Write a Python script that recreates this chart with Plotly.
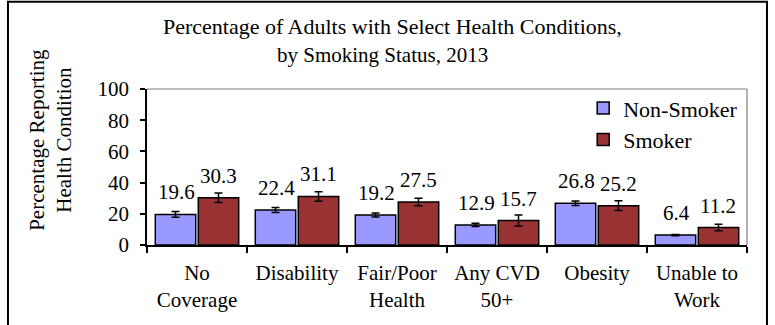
import plotly.graph_objects as go

categories = ["No<br>Coverage", "Disability", "Fair/Poor<br>Health", "Any CVD<br>50+", "Obesity", "Unable to<br>Work"]
non_smoker = [19.6, 22.4, 19.2, 12.9, 26.8, 6.4]
smoker = [30.3, 31.1, 27.5, 15.7, 25.2, 11.2]
non_smoker_err = [1.8, 1.6, 1.3, 1.0, 1.4, 0.4]
smoker_err = [3.1, 3.1, 2.4, 3.5, 3.1, 2.1]
y_ticks = [0, 20, 40, 60, 80, 100]

FONT = "Liberation Serif"
BLUE = "#9999FF"
RED = "#993333"

fig = go.Figure()
fig.add_trace(go.Bar(
    name="Non-Smoker", x=categories, y=non_smoker, legendgroup="a",
    marker=dict(color=BLUE, line=dict(color="black", width=1.5)),
    error_y=dict(type="data", array=non_smoker_err, color="black", thickness=1.5, width=4),
))
fig.add_trace(go.Bar(
    name="Smoker", x=categories, y=smoker, legendgroup="b",
    marker=dict(color=RED, line=dict(color="black", width=1.5)),
    error_y=dict(type="data", array=smoker_err, color="black", thickness=1.5, width=4),
))

# value labels
for cat, v in zip(categories, non_smoker):
    fig.add_annotation(x=cat, y=v, text=f"{v}", showarrow=False, xshift=-21,
                       yanchor="bottom", yshift=8, font=dict(family=FONT, size=21, color="black"))
for cat, v in zip(categories, smoker):
    fig.add_annotation(x=cat, y=v, text=f"{v}", showarrow=False, xshift=21,
                       yanchor="bottom", yshift=8, font=dict(family=FONT, size=21, color="black"))

# titles
fig.add_annotation(xref="paper", yref="paper", x=0.409, y=1.40, showarrow=False,
                   text="Percentage of Adults with Select Health Conditions,",
                   font=dict(family=FONT, size=22, color="black"), yanchor="middle")
fig.add_annotation(xref="paper", yref="paper", x=0.393, y=1.218, showarrow=False,
                   text="by Smoking Status, 2013",
                   font=dict(family=FONT, size=21, color="black"), yanchor="middle")
fig.add_annotation(xref="paper", yref="paper", x=-0.162, y=0.673, showarrow=False,
                   text="Percentage Reporting<br>Health Condition", textangle=-90,
                   font=dict(family=FONT, size=21, color="black"), xanchor="center", yanchor="middle")

# plot frame (gray top/right) and outer border
fig.add_shape(type="line", xref="paper", yref="paper", x0=0, x1=1, y0=1, y1=1,
              line=dict(color="#808080", width=1.2))
fig.add_shape(type="line", xref="paper", yref="paper", x0=1, x1=1, y0=0, y1=1,
              line=dict(color="#808080", width=1.2))
fig.add_shape(type="rect", xref="paper", yref="paper", x0=-0.2317, x1=1.0333, y0=-0.56, y1=1.56,
              line=dict(color="black", width=2))

fig.update_layout(
    width=775, height=325,
    margin=dict(l=147, r=28, t=89, b=80),
    paper_bgcolor="white", plot_bgcolor="white",
    font=dict(family=FONT, size=21, color="black"),
    barmode="group", bargap=0.14, bargroupgap=0.06,
    showlegend=True,
    legend=dict(x=0.727, y=1.012, xanchor="left", yanchor="top", bgcolor="rgba(0,0,0,0)",
                font=dict(family=FONT, size=22, color="black"), tracegroupgap=13,
                itemwidth=30, traceorder="normal"),
)
fig.update_xaxes(showline=True, linecolor="black", linewidth=1.5, ticks="outside",
                 tickson="boundaries", ticklen=6, tickcolor="black", tickwidth=1.5,
                 showgrid=False, zeroline=False, ticklabelstandoff=8,
                 tickfont=dict(family=FONT, size=21, color="black"))
fig.update_yaxes(range=[0, 100], tickvals=y_ticks, showline=True, linecolor="black", linewidth=1.5,
                 ticks="outside", ticklen=5, tickcolor="black", tickwidth=1.5, showgrid=False,
                 zeroline=False, ticklabelstandoff=7, tickfont=dict(family=FONT, size=21, color="black"))

fig.write_html("out.html", config={"displayModeBar": False},
               post_script="document.body.style.margin='0';")
